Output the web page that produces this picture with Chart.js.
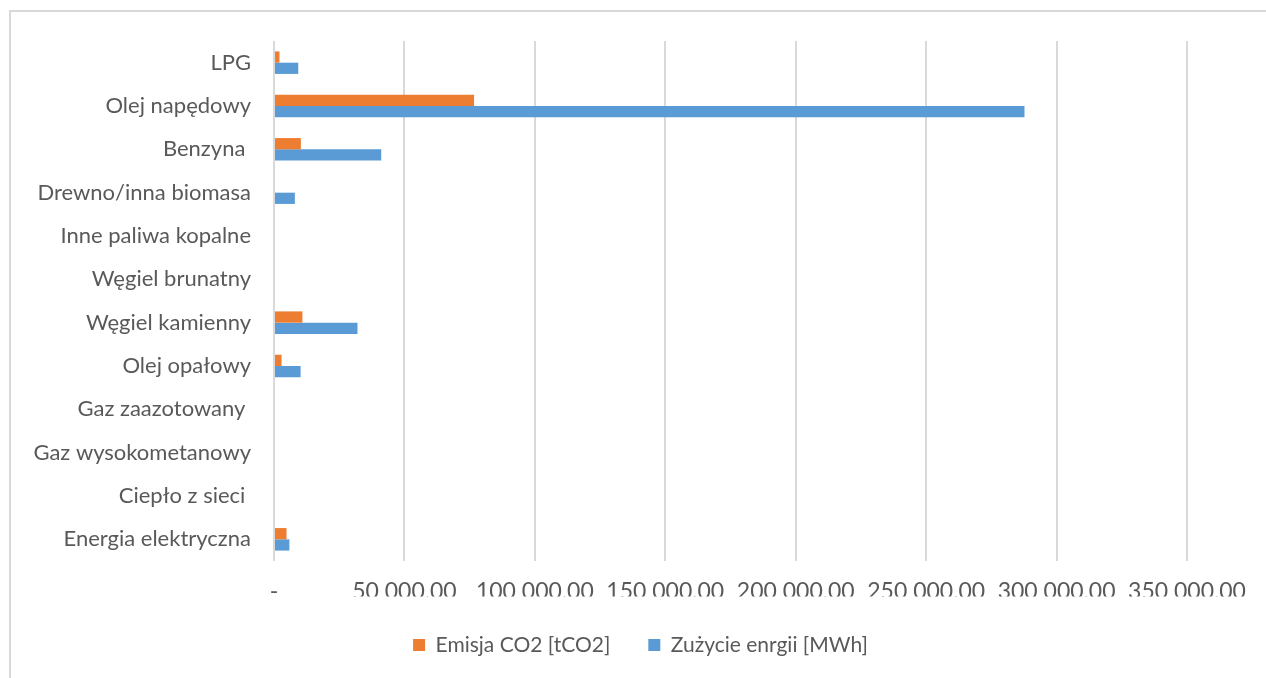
<!DOCTYPE html>
<html lang="pl">
<head>
<meta charset="utf-8">
<title>Emisja CO2 i zużycie energii według nośnika</title>
<script src="https://cdn.jsdelivr.net/npm/chart.js@4/dist/chart.umd.min.js"></script>
<style>
  html, body { margin: 0; padding: 0; background: #ffffff; overflow: hidden; }
  #wrap { position: relative; width: 1266px; height: 678px; }
  #frame {
    position: absolute; left: 9px; top: 10px; width: 1300px; height: 700px;
    border-left: 2px solid #d9d9d9; border-top: 2px solid #d9d9d9;
    box-sizing: border-box;
  }
  canvas { position: absolute; left: 0; top: 0; }
</style>
</head>
<body>
<div id="wrap">
  <div id="frame"></div>
  <canvas id="chart" width="1266" height="678"></canvas>
</div>
<script>
// Nośniki energii (od góry wykresu)
const categories = [
  'LPG',
  'Olej napędowy',
  'Benzyna ',
  'Drewno/inna biomasa',
  'Inne paliwa kopalne',
  'Węgiel brunatny',
  'Węgiel kamienny',
  'Olej opałowy',
  'Gaz zaazotowany ',
  'Gaz wysokometanowy',
  'Ciepło z sieci ',
  'Energia elektryczna'
];

// Emisja CO2 [tCO2]
const emisjaCO2 = [2100, 76700, 10300, 0, 0, 0, 10900, 2900, 0, 0, 0, 4800];

// Zużycie energii [MWh]
const zuzycieEnergii = [9300, 287700, 41100, 8000, 0, 0, 32000, 10200, 0, 0, 0, 5900];

// Etykiety osi wartości
const xTickLabels = ['-', '50 000,00', '100 000,00', '150 000,00', '200 000,00', '250 000,00', '300 000,00', '350 000,00'];

const seriesNames = ['Emisja CO2 [tCO2]', 'Zużycie enrgii [MWh]'];

const FONT = 'Lato';
const TEXT = '#595959';

// Legenda wyśrodkowana względem całej ramki wykresu, nie tylko obszaru płótna
const legendShift = {
  id: 'legendShift',
  afterLayout(chart) {
    const lg = chart.legend;
    if (lg) { lg.left += 42; lg.right += 42; }
  }
};

new Chart(document.getElementById('chart'), {
  type: 'bar',
  data: {
    labels: categories,
    datasets: [
      { label: seriesNames[0], data: emisjaCO2, backgroundColor: '#ED7D31' },
      { label: seriesNames[1], data: zuzycieEnergii, backgroundColor: '#5B9BD5' }
    ]
  },
  plugins: [legendShift],
  options: {
    indexAxis: 'y',
    responsive: false,
    animation: false,
    events: [],
    layout: { padding: { left: 10, right: 79, top: 41, bottom: 12.5 } },
    datasets: { bar: { categoryPercentage: 0.52, barPercentage: 1.0 } },
    scales: {
      x: {
        min: 0,
        max: 350000,
        ticks: {
          stepSize: 50000,
          color: TEXT,
          padding: 17,
          maxRotation: 0,
          autoSkip: false,
          font: { family: FONT, size: 23 },
          callback: (value, index) => xTickLabels[index]
        },
        grid: { color: '#d9d9d9', lineWidth: 2, drawTicks: false },
        border: { display: false },
        afterFit: (scale) => { scale.height = 35.5; }
      },
      y: {
        ticks: {
          color: TEXT,
          padding: 23,
          autoSkip: false,
          font: { family: FONT, size: 22 }
        },
        grid: { display: false, drawTicks: false },
        border: { display: false },
        afterFit: (scale) => { scale.width = 264; }
      }
    },
    plugins: {
      legend: {
        position: 'bottom',
        labels: {
          color: TEXT,
          boxWidth: 12,
          boxHeight: 12,
          padding: 38,
          font: { family: FONT, size: 21 }
        }
      },
      tooltip: { enabled: false }
    }
  }
});
</script>
</body>
</html>
